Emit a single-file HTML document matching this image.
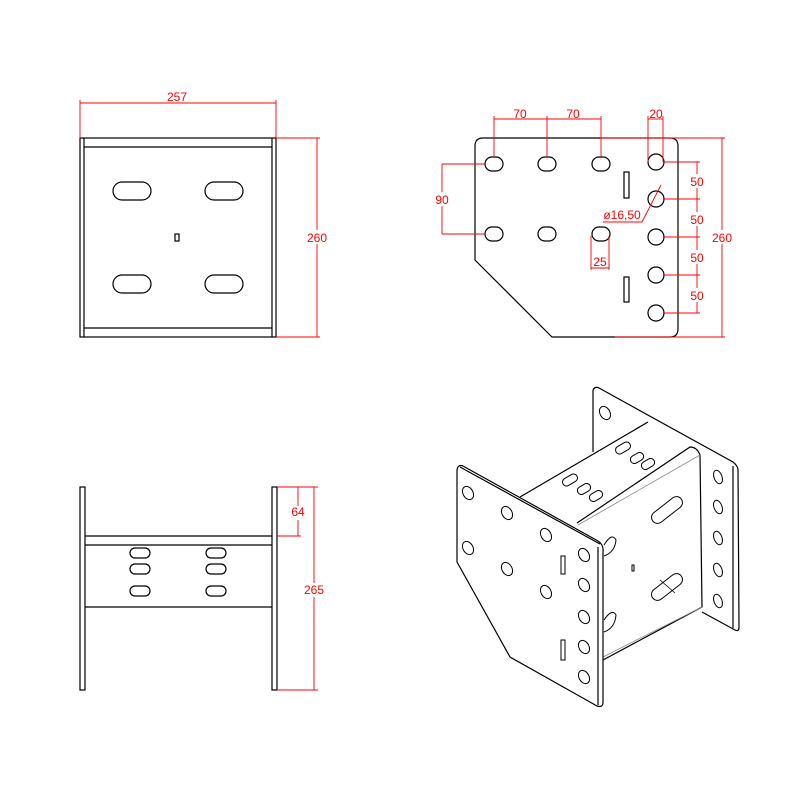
<!DOCTYPE html>
<html><head><style>body{margin:0;background:#fff}svg{display:block}</style></head>
<body>
<svg width="800" height="800" viewBox="0 0 800 800" xmlns="http://www.w3.org/2000/svg" font-family="Liberation Sans, sans-serif">
<rect width="800" height="800" fill="#fff"/>
<g fill="none" stroke="#000" stroke-width="1.2">
<!-- top-left view -->
<rect x="80" y="138" width="196" height="199"/>
<line x1="84" y1="138" x2="84" y2="337"/><line x1="272" y1="138" x2="272" y2="337"/>
<line x1="84" y1="147" x2="272" y2="147"/><line x1="84" y1="328" x2="272" y2="328"/>
<rect x="113" y="182" width="38" height="18" rx="9"/>
<rect x="205" y="182" width="38" height="18" rx="9"/>
<rect x="113" y="275" width="38" height="18" rx="9"/>
<rect x="205" y="275" width="38" height="18" rx="9"/>
<rect x="175" y="234" width="4" height="7"/>
<!-- top-right view -->
<path d="M483,138 L670,138 Q678,138 678,146 L678,329 Q678,337 670,337 L552,337 L475,260 L475,146 Q475,138 483,138 Z"/>
<rect x="485" y="157" width="18" height="14" rx="7"/>
<rect x="538" y="157" width="18" height="14" rx="7"/>
<rect x="592" y="157" width="18" height="14" rx="7"/>
<rect x="485" y="227" width="18" height="14" rx="7"/>
<rect x="538" y="227" width="18" height="14" rx="7"/>
<rect x="592" y="227" width="18" height="14" rx="7"/>
<rect x="624" y="172" width="5" height="26"/>
<rect x="624" y="277" width="5" height="25"/>
<circle cx="656" cy="162" r="8"/><circle cx="656" cy="199" r="8"/><circle cx="656" cy="237" r="8"/><circle cx="656" cy="275" r="8"/><circle cx="656" cy="313" r="8"/>
<!-- bottom-left view -->
<rect x="80" y="487" width="5" height="203"/>
<rect x="272" y="487" width="5" height="203"/>
<line x1="85" y1="536" x2="272" y2="536"/><line x1="85" y1="545" x2="272" y2="545"/><line x1="85" y1="607" x2="272" y2="607"/>
<rect x="130" y="548" width="20" height="10" rx="5"/><rect x="130" y="564" width="20" height="10" rx="5"/><rect x="130" y="586" width="20" height="10" rx="5"/>
<rect x="206" y="548" width="20" height="10" rx="5"/><rect x="206" y="564" width="20" height="10" rx="5"/><rect x="206" y="586" width="20" height="10" rx="5"/>
<!-- iso view -->
<path d="M593,390 Q595,386 599,388 L733,462 Q738,466 738,470 L739,627 Q739,632 735,630 L702,612"/>
<line x1="593" y1="390" x2="593" y2="452"/>
<line x1="733" y1="466" x2="733" y2="628"/>
<path d="M520,497 L648,422"/>
<path d="M577,523 L690,447 Q697,447 700,455 L702,607 L603,660"/>
<line x1="700" y1="455" x2="578" y2="525" stroke="#888" stroke-width="0.8"/>
<line x1="702" y1="607" x2="603" y2="657" stroke="#888" stroke-width="0.8"/>
<path d="M457,470 Q458,464 463,466 L598,541 Q604,545 603,552 L603,702 Q603,708 597,706 L510,657 L457,562 Z"/>
<line x1="460" y1="467" x2="600" y2="544"/>
<line x1="598" y1="547" x2="598" y2="705"/>
<g stroke-width="1">
<ellipse cx="468" cy="493" rx="5" ry="7" transform="rotate(-30 468 493)"/>
<ellipse cx="507" cy="513" rx="5" ry="7" transform="rotate(-30 507 513)"/>
<ellipse cx="546" cy="535" rx="5" ry="7" transform="rotate(-30 546 535)"/>
<ellipse cx="468" cy="548" rx="5" ry="7" transform="rotate(-30 468 548)"/>
<ellipse cx="507" cy="569" rx="5" ry="7" transform="rotate(-30 507 569)"/>
<ellipse cx="546" cy="592" rx="5" ry="7" transform="rotate(-30 546 592)"/>
<ellipse cx="584" cy="555" rx="5" ry="7" transform="rotate(-30 584 555)"/>
<ellipse cx="584" cy="585" rx="5" ry="7" transform="rotate(-30 584 585)"/>
<ellipse cx="584" cy="617" rx="5" ry="7" transform="rotate(-30 584 617)"/>
<ellipse cx="584" cy="647" rx="5" ry="7" transform="rotate(-30 584 647)"/>
<ellipse cx="584" cy="677" rx="5" ry="7" transform="rotate(-30 584 677)"/>
<ellipse cx="605" cy="413" rx="5" ry="7" transform="rotate(-30 605 413)"/>
<ellipse cx="718" cy="477" rx="4" ry="7" transform="rotate(-20 718 477)"/>
<ellipse cx="718" cy="507" rx="4" ry="7" transform="rotate(-20 718 507)"/>
<ellipse cx="718" cy="538" rx="4" ry="7" transform="rotate(-20 718 538)"/>
<ellipse cx="718" cy="570" rx="4" ry="7" transform="rotate(-20 718 570)"/>
<ellipse cx="718" cy="601" rx="4" ry="7" transform="rotate(-20 718 601)"/>
<rect x="615" y="444" width="16" height="8" rx="4" transform="rotate(-30 623 448)"/>
<rect x="630" y="454" width="14" height="8" rx="4" transform="rotate(-30 637 458)"/>
<rect x="641" y="460" width="14" height="8" rx="4" transform="rotate(-30 648 464)"/>
<rect x="562" y="476" width="16" height="8" rx="4" transform="rotate(-30 570 480)"/>
<rect x="577" y="485" width="14" height="8" rx="4" transform="rotate(-30 584 489)"/>
<rect x="589" y="492" width="14" height="8" rx="4" transform="rotate(-30 596 496)"/>
<rect x="649" y="504" width="36" height="12" rx="6" transform="rotate(-38 667 510)"/>
<rect x="649" y="581" width="36" height="12" rx="6" transform="rotate(-38 667 587)"/>
<line x1="660" y1="580" x2="675" y2="593" stroke-width="0.8"/>
<rect x="561" y="556" width="4" height="18"/>
<rect x="561" y="640" width="4" height="20"/>
<rect x="632" y="565" width="2" height="6"/>
<path d="M604,545 Q612,532 616,540 Q615,552 604,556"/>
<path d="M604,620 Q612,608 616,615 Q615,628 604,632"/>
</g>
</g>
<!-- dimensions -->
<g stroke="#f00" stroke-width="0.9" fill="none">
<line x1="80" y1="100" x2="80" y2="138"/><line x1="276" y1="100" x2="276" y2="138"/><line x1="80" y1="103" x2="276" y2="103"/>
<line x1="276" y1="138" x2="320" y2="138"/><line x1="276" y1="337" x2="320" y2="337"/><line x1="317" y1="138" x2="317" y2="337"/>
<line x1="494" y1="119" x2="601" y2="119"/><line x1="494" y1="116" x2="494" y2="157"/><line x1="547" y1="116" x2="547" y2="157"/><line x1="601" y1="116" x2="601" y2="157"/>
<line x1="648" y1="119" x2="663" y2="119"/><line x1="648" y1="116" x2="648" y2="162"/><line x1="663" y1="116" x2="663" y2="162"/>
<line x1="600" y1="138" x2="725" y2="138"/><line x1="615" y1="337" x2="725" y2="337"/><line x1="722" y1="138" x2="722" y2="337"/>
<line x1="442" y1="164" x2="485" y2="164"/><line x1="442" y1="234" x2="485" y2="234"/><line x1="442" y1="164" x2="442" y2="234"/>
<line x1="591" y1="236" x2="591" y2="270"/><line x1="609" y1="236" x2="609" y2="270"/><line x1="591" y1="268" x2="609" y2="268"/>
<line x1="697" y1="162" x2="697" y2="313"/>
<line x1="663" y1="162" x2="700" y2="162"/><line x1="663" y1="199" x2="700" y2="199"/><line x1="663" y1="237" x2="700" y2="237"/><line x1="663" y1="275" x2="700" y2="275"/><line x1="663" y1="313" x2="700" y2="313"/>
<polyline points="661,185 642,222 603,222"/>
<line x1="277" y1="487" x2="318" y2="487"/><line x1="277" y1="536" x2="301" y2="536"/><line x1="277" y1="690" x2="318" y2="690"/>
<line x1="298" y1="487" x2="298" y2="536"/><line x1="314" y1="487" x2="314" y2="690"/>
</g>
<g fill="#f00" font-size="12" text-anchor="middle">
<text x="177" y="101">257</text>
<rect x="304" y="230" width="26" height="14" fill="#fff"/><text x="317" y="242">260</text>
<text x="520" y="118">70</text><text x="573" y="118">70</text><text x="656" y="118">20</text>
<rect x="709" y="230" width="26" height="14" fill="#fff"/><text x="722" y="242">260</text>
<rect x="432" y="192" width="20" height="14" fill="#fff"/><text x="442" y="204">90</text>
<text x="600" y="266">25</text>
<rect x="688" y="174" width="18" height="14" fill="#fff"/><text x="697" y="186">50</text>
<rect x="688" y="212" width="18" height="14" fill="#fff"/><text x="697" y="224">50</text>
<rect x="688" y="250" width="18" height="14" fill="#fff"/><text x="697" y="262">50</text>
<rect x="688" y="288" width="18" height="14" fill="#fff"/><text x="697" y="300">50</text>
<text x="622" y="219">ø16,50</text>
<rect x="289" y="506" width="18" height="14" fill="#fff"/><text x="298" y="516">64</text>
<rect x="300" y="583" width="28" height="14" fill="#fff"/><text x="314" y="594">265</text>
</g>
</svg>
</body></html>
